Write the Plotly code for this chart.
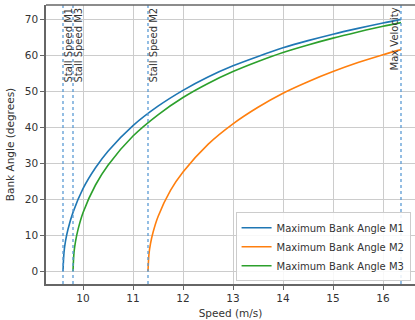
import plotly.graph_objects as go

# Speeds (m/s) and read bank angles (degrees)
speed_m1 = [9.6, 9.62, 9.65, 9.7, 9.8, 10.0, 10.25, 10.5, 11.0, 11.5, 12.0, 12.5, 13.0, 13.5, 14.0, 14.5, 15.0, 15.5, 16.0, 16.36]
angle_m1 = [0, 5.2, 8.3, 11.6, 16.3, 22.9, 28.7, 33.3, 40.4, 45.8, 50.2, 53.9, 57.0, 59.6, 62.0, 64.0, 65.8, 67.4, 68.9, 69.9]

speed_m2 = [11.3, 11.32, 11.35, 11.4, 11.5, 11.75, 12.0, 12.5, 13.0, 13.5, 14.0, 14.5, 15.0, 15.5, 16.0, 16.36]
angle_m2 = [0, 4.8, 7.6, 10.7, 15.1, 22.4, 27.5, 35.2, 40.9, 45.5, 49.4, 52.6, 55.4, 57.9, 60.1, 61.5]

speed_m3 = [9.8, 9.82, 9.85, 9.9, 10.0, 10.25, 10.5, 11.0, 11.5, 12.0, 12.5, 13.0, 13.5, 14.0, 14.5, 15.0, 15.5, 16.0, 16.36]
angle_m3 = [0, 5.2, 8.2, 11.5, 16.2, 23.9, 29.4, 37.5, 43.4, 48.2, 52.1, 55.4, 58.2, 60.7, 62.8, 64.7, 66.4, 68.0, 69.0]

series_names = ["Maximum Bank Angle M1", "Maximum Bank Angle M2", "Maximum Bank Angle M3"]
colors = ["#1f77b4", "#ff7f0e", "#2ca02c"]

marker_speeds = [9.6, 9.8, 11.3, 16.36]
marker_labels = ["Stall Speed M1", "Stall Speed M3", "Stall Speed M2", "Max Velocity"]
marker_shift = [5, 5, 5, -7]

fig = go.Figure()
for xs, ys, name, c in zip([speed_m1, speed_m2, speed_m3], [angle_m1, angle_m2, angle_m3], series_names, colors):
    fig.add_trace(go.Scatter(x=xs, y=ys, mode="lines", name=name,
                             line=dict(color=c, width=1.6, shape="spline", smoothing=0.8)))

for xv, lab, sh in zip(marker_speeds, marker_labels, marker_shift):
    fig.add_shape(type="line", x0=xv, x1=xv, y0=0, y1=1, xref="x", yref="paper",
                  line=dict(color="#5b9bd5", width=1.3, dash="dot"))
    fig.add_annotation(x=xv, y=1, xref="x", yref="paper", text=lab, showarrow=False,
                       textangle=-90, xanchor="center", yanchor="top", xshift=sh, yshift=-1,
                       font=dict(family="DejaVu Sans", size=10, color="#333"))

# top spine
fig.add_shape(type="line", x0=0, x1=1, y0=1, y1=1, xref="paper", yref="paper",
              line=dict(color="#666", width=1.5))

axis_common = dict(showgrid=True, gridcolor="#cccccc", gridwidth=1, zeroline=False,
                   showline=True, linecolor="#666", linewidth=1.5,
                   ticks="outside", ticklen=4, tickcolor="#666",
                   tickfont=dict(family="DejaVu Sans", size=10.5, color="#333"))

fig.update_xaxes(range=[9.26, 16.64], tickvals=[10, 11, 12, 13, 14, 15, 16],
                 title=dict(text="Speed (m/s)", font=dict(family="DejaVu Sans", size=10.5, color="#333"), standoff=6),
                 **axis_common)
fig.update_yaxes(range=[-3.6, 73.9], tickvals=[0, 10, 20, 30, 40, 50, 60, 70],
                 title=dict(text="Bank Angle (degrees)", font=dict(family="DejaVu Sans", size=10.5, color="#333"), standoff=8),
                 **axis_common)

fig.update_layout(
    width=415, height=320,
    margin=dict(l=46, r=0, t=5, b=36),
    plot_bgcolor="white", paper_bgcolor="white",
    showlegend=True,
    legend=dict(x=0.988, y=0.01, xanchor="right", yanchor="bottom",
                bgcolor="rgba(255,255,255,0.85)", bordercolor="#cccccc", borderwidth=1,
                font=dict(family="DejaVu Sans", size=10, color="#333"),
                itemwidth=30, tracegroupgap=0),
)

fig.write_html("out.html")
